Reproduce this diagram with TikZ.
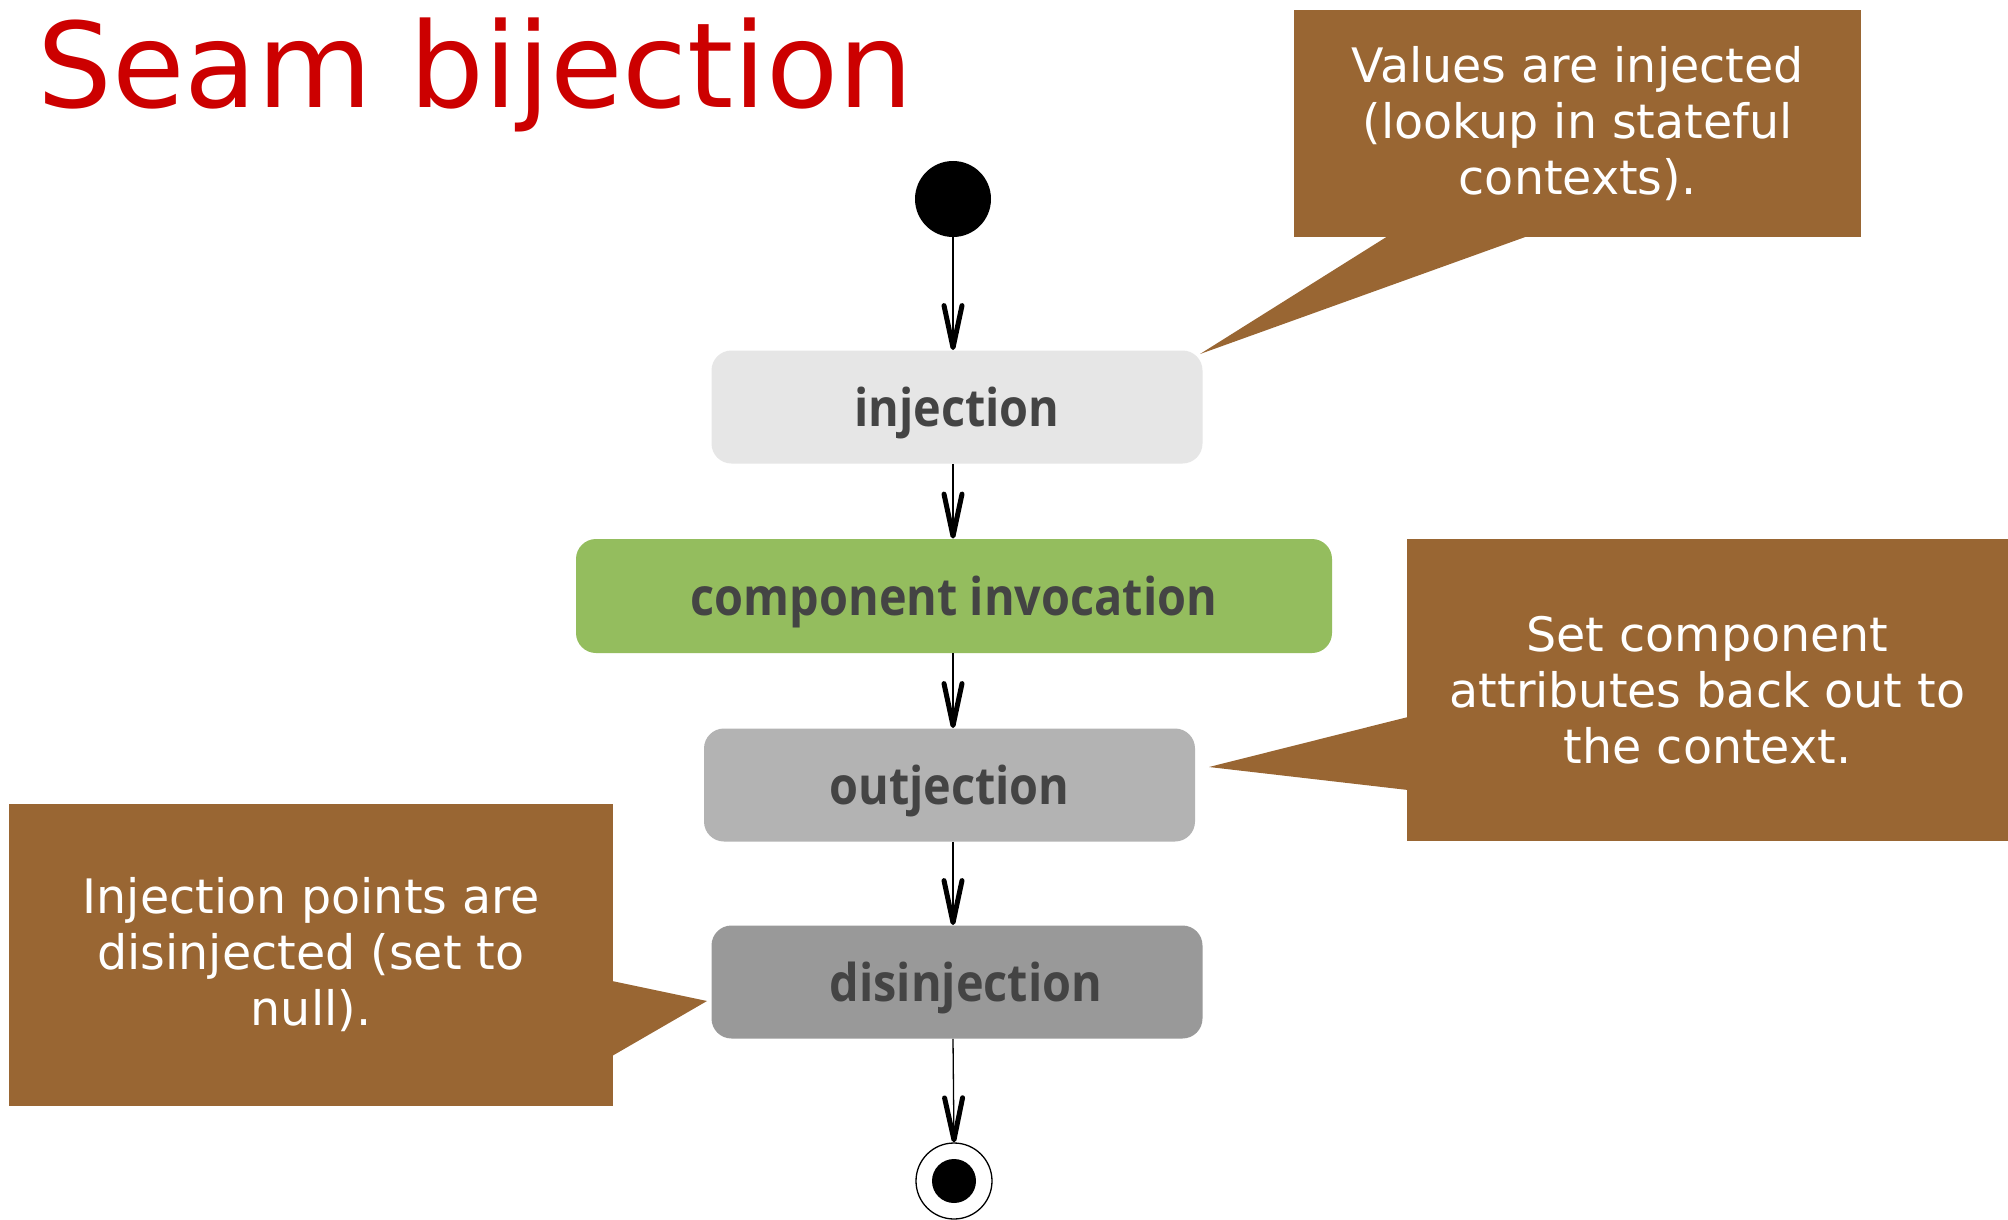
\documentclass[tikz,border=0pt]{standalone}
\usepackage{fontspec}
\setmainfont{DejaVu Sans}
\newfontfamily\boxfont[FakeStretch=0.9]{Open Sans}
\usetikzlibrary{arrows.meta}
\definecolor{brownbox}{HTML}{996633}
\definecolor{titlered}{HTML}{CC0000}
\definecolor{injgray}{HTML}{E6E6E6}
\definecolor{compgreen}{HTML}{94BD5E}
\definecolor{outgray}{HTML}{B3B3B3}
\definecolor{disgray}{HTML}{999999}
\definecolor{labelgray}{HTML}{444444}
\begin{document}
\begin{tikzpicture}[x=0.5pt,y=-0.5pt,
  stepbox/.style={rectangle, rounded corners=10pt, minimum width=245.5pt, minimum height=56.5pt, inner sep=0pt, text height=19pt, text depth=0pt, text=labelgray, font=\boxfont\bfseries\fontsize{26pt}{30pt}\selectfont},
  flow/.style={draw=black, line width=0.65pt, -{Straight Barb[length=21pt,width=9pt,line width=2.5pt,round]}},
  callout/.style={rectangle, fill=brownbox, text=white, inner sep=0pt, align=center, font=\fontsize{23.75pt}{28pt}\selectfont},
  pointer/.style={fill=brownbox}
]
\useasboundingbox (0,0) rectangle (2008,1220);
\fill[white] (0,0) rectangle (2008,1220);

\node[anchor=base west, inner sep=0pt, text=titlered, font=\fontsize{59pt}{70pt}\selectfont] (title) at (37,108) {Seam bijection};

\node[circle, fill=black, minimum size=38pt, inner sep=0pt] (start) at (953,199) {};
\node[stepbox, fill=injgray] (inj) at (957,407) {injection};
\node[stepbox, fill=compgreen, minimum width=378pt, minimum height=57pt] (comp) at (954,596) {component invocation};
\node[stepbox, fill=outgray] (outj) at (949.5,785) {outjection};
\node[stepbox, fill=disgray] (disj) at (957,982) {\hspace*{9pt}disinjection};
\node[circle, draw=black, line width=0.65pt, minimum size=38pt, inner sep=0pt] (end) at (954,1181) {};
\node[circle, fill=black, minimum size=22pt, inner sep=0pt] (endin) at (end) {};

\draw[flow] (start) -- (start |- inj.north);
\draw[flow] (start |- inj.south) -- (start |- comp.north);
\draw[flow] (start |- comp.south) -- (start |- outj.north);
\draw[flow] (start |- outj.south) -- (start |- disj.north);
\draw[flow] (start |- disj.south) -- (end.north);

\node[callout, minimum width=283.5pt, minimum height=113.5pt] (c1) at (1577.5,123.5) {Values are injected\\(lookup in stateful\\contexts).};
\fill[pointer] (1388,236) -- (1200,354) -- (1528,236) -- cycle;

\node[callout, minimum width=300.5pt, minimum height=151pt] (c2) at (1707.5,690) {Set component\\attributes back out to\\the context.};
\fill[pointer] (1408,717) -- (1209,767) -- (1408,790) -- cycle;

\node[callout, minimum width=302pt, minimum height=151pt] (c3) at (311,955) {Injection points are\\disinjected (set to\\null).};
\fill[pointer] (612,981) -- (707,1001) -- (612,1056) -- cycle;
\end{tikzpicture}
\end{document}
